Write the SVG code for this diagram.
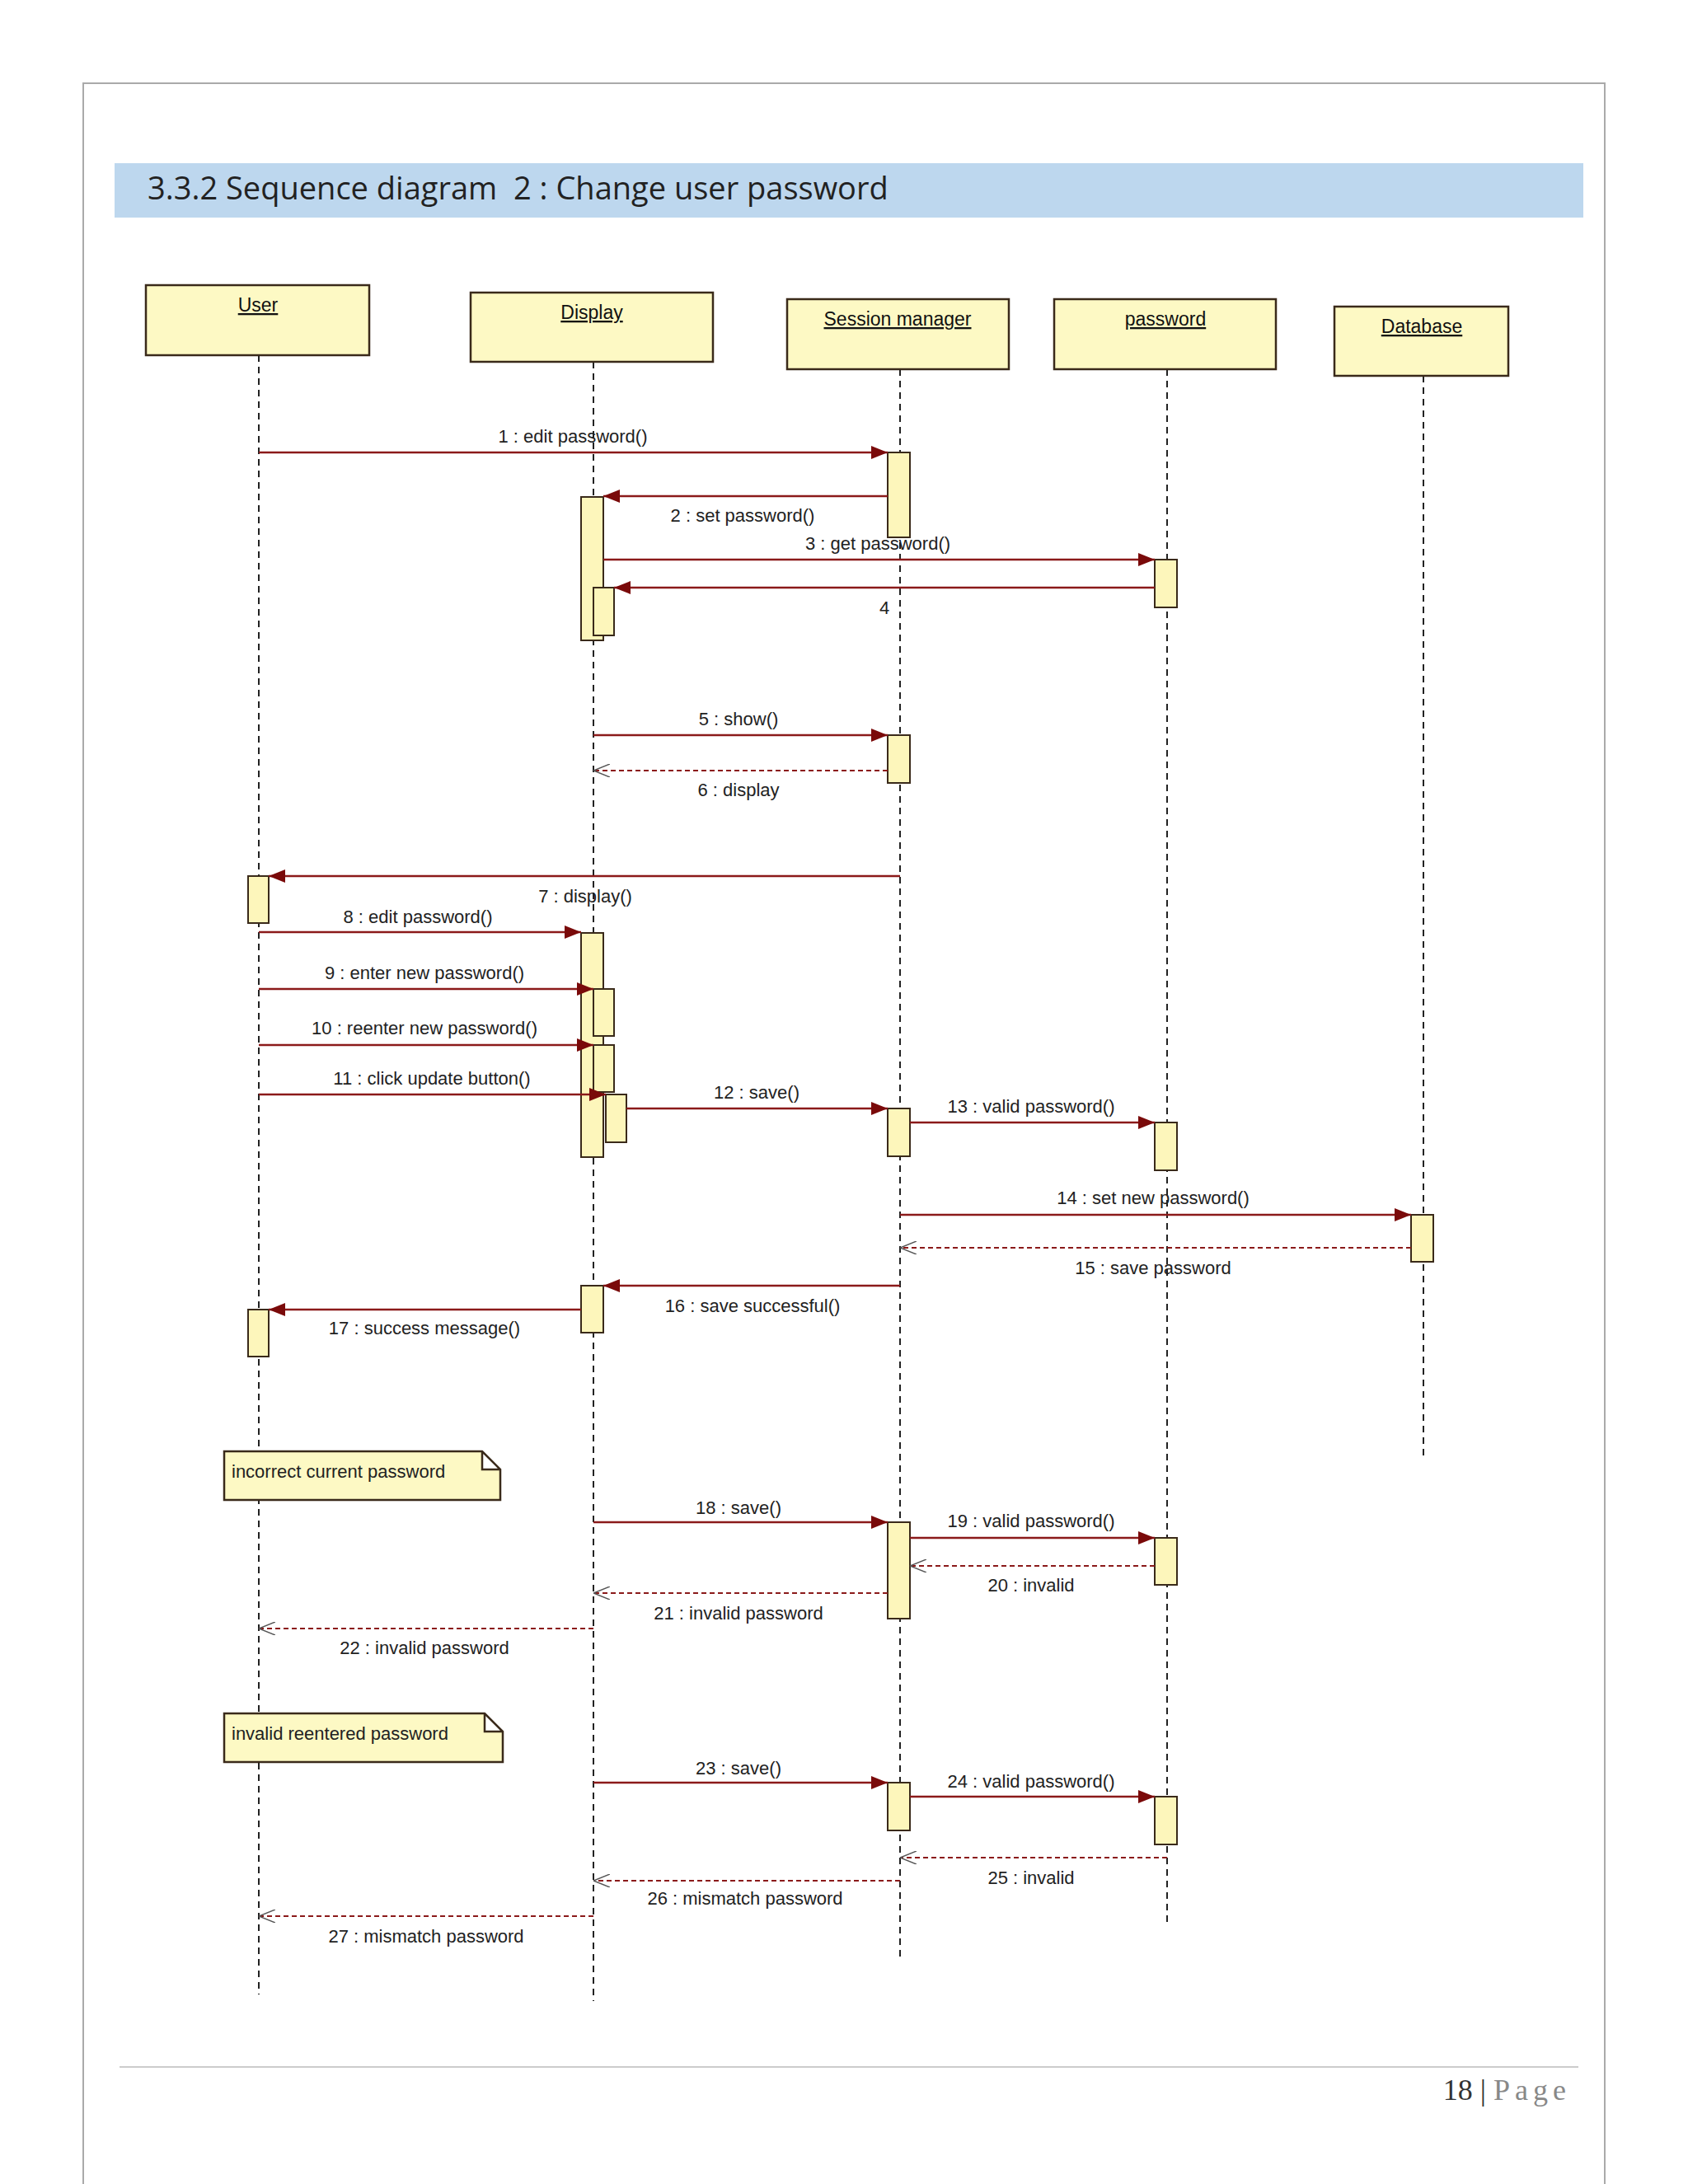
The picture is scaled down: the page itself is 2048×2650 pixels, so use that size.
<svg xmlns="http://www.w3.org/2000/svg" width="2048" height="2650" viewBox="0 0 2048 2650">
<style>
.hd{font-family:"Open Sans","Liberation Sans",sans-serif;font-size:38px;fill:#222}
.nl{font-family:"Liberation Sans",sans-serif;font-size:23px;fill:#111;text-anchor:middle;text-decoration:underline}
.lb{font-family:"Liberation Sans",sans-serif;font-size:22px;fill:#222;text-anchor:middle}
.nt{font-family:"Liberation Sans",sans-serif;font-size:22px;fill:#222}
.box{fill:#fdf9c4;stroke:#3a2a1a;stroke-width:2.5}
.act{fill:#fdf6bb;stroke:#3a2a1a;stroke-width:2}
.ll{stroke:#222;stroke-width:2;stroke-dasharray:8 6;fill:none}
.m{stroke:#8b1a1a;stroke-width:2.5;fill:none;marker-end:url(#f)}
.r{stroke:#8b1a1a;stroke-width:2;stroke-dasharray:6 4;fill:none;marker-end:url(#o)}
</style>
<defs>
<marker id="f" viewBox="0 0 20 16" refX="20" refY="8" markerWidth="20" markerHeight="16" markerUnits="userSpaceOnUse" orient="auto"><path d="M0,0 L20,8 L0,16 z" fill="#7a0a0a"/></marker>
<marker id="o" viewBox="0 0 20 16" refX="20" refY="8" markerWidth="20" markerHeight="16" markerUnits="userSpaceOnUse" orient="auto"><path d="M0,0 L20,8 L0,16" fill="none" stroke="#555" stroke-width="1.5"/></marker>
</defs>
<rect width="2048" height="2650" fill="#fff"/>
<path d="M101,2650 V101 H1947 V2650" fill="none" stroke="#aaa" stroke-width="2"/>
<rect x="139" y="198" width="1782" height="66" fill="#bdd7ee"/>
<text class="hd" x="179" y="242">3.3.2 Sequence diagram &#160;2 : Change user password</text>

<g id="lifelines">
<line class="ll" x1="314" y1="431" x2="314" y2="2420"/>
<line class="ll" x1="720" y1="439" x2="720" y2="2428"/>
<line class="ll" x1="1092" y1="448" x2="1092" y2="2379"/>
<line class="ll" x1="1416" y1="448" x2="1416" y2="2332"/>
<line class="ll" x1="1727" y1="456" x2="1727" y2="1769"/>
</g>
<g id="user"><rect class="box" x="177" y="346" width="271" height="85"/><text class="nl" x="313" y="378">User</text></g>
<g id="display"><rect class="box" x="571" y="355" width="294" height="84"/><text class="nl" x="718" y="387">Display</text></g>
<g id="session"><rect class="box" x="955" y="363" width="269" height="85"/><text class="nl" x="1089" y="395">Session manager</text></g>
<g id="password"><rect class="box" x="1279" y="363" width="269" height="85"/><text class="nl" x="1414" y="395">password</text></g>
<g id="database"><rect class="box" x="1619" y="372" width="211" height="84"/><text class="nl" x="1725" y="404">Database</text></g>

<g id="activations">
<rect class="act" x="1077" y="549" width="27" height="103"/>
<rect class="act" x="705" y="603" width="27" height="174"/>
<rect class="act" x="720" y="713" width="25" height="58"/>
<rect class="act" x="1401" y="679" width="27" height="58"/>
<rect class="act" x="1077" y="892" width="27" height="58"/>
<rect class="act" x="301" y="1063" width="25" height="57"/>
<rect class="act" x="705" y="1132" width="27" height="272"/>
<rect class="act" x="720" y="1200" width="25" height="57"/>
<rect class="act" x="720" y="1268" width="25" height="57"/>
<rect class="act" x="735" y="1328" width="25" height="58"/>
<rect class="act" x="1077" y="1345" width="27" height="58"/>
<rect class="act" x="1401" y="1362" width="27" height="58"/>
<rect class="act" x="1712" y="1474" width="27" height="57"/>
<rect class="act" x="705" y="1560" width="27" height="57"/>
<rect class="act" x="301" y="1589" width="25" height="57"/>
<rect class="act" x="1077" y="1847" width="27" height="117"/>
<rect class="act" x="1401" y="1866" width="27" height="57"/>
<rect class="act" x="1077" y="2163" width="27" height="58"/>
<rect class="act" x="1401" y="2180" width="27" height="58"/>
</g>

<g id="connectors">
<line class="m" x1="314" y1="549" x2="1077" y2="549"/>
<line class="m" x1="1077" y1="602" x2="732" y2="602"/>
<line class="m" x1="732" y1="679" x2="1401" y2="679"/>
<line class="m" x1="1401" y1="713" x2="745" y2="713"/>
<line class="m" x1="720" y1="892" x2="1077" y2="892"/>
<line class="r" x1="1077" y1="935" x2="720" y2="935"/>
<line class="m" x1="1092" y1="1063" x2="326" y2="1063"/>
<line class="m" x1="314" y1="1131" x2="705" y2="1131"/>
<line class="m" x1="314" y1="1200" x2="720" y2="1200"/>
<line class="m" x1="314" y1="1268" x2="720" y2="1268"/>
<line class="m" x1="314" y1="1328" x2="735" y2="1328"/>
<line class="m" x1="760" y1="1345" x2="1077" y2="1345"/>
<line class="m" x1="1104" y1="1362" x2="1401" y2="1362"/>
<line class="m" x1="1092" y1="1474" x2="1712" y2="1474"/>
<line class="r" x1="1712" y1="1514" x2="1092" y2="1514"/>
<line class="m" x1="1092" y1="1560" x2="732" y2="1560"/>
<line class="m" x1="705" y1="1589" x2="326" y2="1589"/>
<line class="m" x1="720" y1="1847" x2="1077" y2="1847"/>
<line class="m" x1="1104" y1="1866" x2="1401" y2="1866"/>
<line class="r" x1="1401" y1="1900" x2="1104" y2="1900"/>
<line class="r" x1="1077" y1="1933" x2="720" y2="1933"/>
<line class="r" x1="720" y1="1976" x2="314" y2="1976"/>
<line class="m" x1="720" y1="2163" x2="1077" y2="2163"/>
<line class="m" x1="1104" y1="2180" x2="1401" y2="2180"/>
<line class="r" x1="1416" y1="2254" x2="1092" y2="2254"/>
<line class="r" x1="1092" y1="2282" x2="720" y2="2282"/>
<line class="r" x1="720" y1="2325" x2="314" y2="2325"/>
</g>

<g id="labels">
<text class="lb" x="695" y="537">1 : edit password()</text>
<text class="lb" x="901" y="633">2 : set password()</text>
<text class="lb" x="1065" y="667">3 : get password()</text>
<text class="lb" x="1073" y="745">4</text>
<text class="lb" x="896" y="880">5 : show()</text>
<text class="lb" x="896" y="966">6 : display</text>
<text class="lb" x="710" y="1095">7 : display()</text>
<text class="lb" x="507" y="1120">8 : edit password()</text>
<text class="lb" x="515" y="1188">9 : enter new password()</text>
<text class="lb" x="515" y="1255">10 : reenter new password()</text>
<text class="lb" x="524" y="1316">11 : click update button()</text>
<text class="lb" x="918" y="1333">12 : save()</text>
<text class="lb" x="1251" y="1350">13 : valid password()</text>
<text class="lb" x="1399" y="1461">14 : set new password()</text>
<text class="lb" x="1399" y="1546">15 : save password</text>
<text class="lb" x="913" y="1592">16 : save successful()</text>
<text class="lb" x="515" y="1619">17 : success message()</text>
<text class="lb" x="896" y="1837">18 : save()</text>
<text class="lb" x="1251" y="1853">19 : valid password()</text>
<text class="lb" x="1251" y="1931">20 : invalid</text>
<text class="lb" x="896" y="1965">21 : invalid password</text>
<text class="lb" x="515" y="2007">22 : invalid password</text>
<text class="lb" x="896" y="2153">23 : save()</text>
<text class="lb" x="1251" y="2169">24 : valid password()</text>
<text class="lb" x="1251" y="2286">25 : invalid</text>
<text class="lb" x="904" y="2311">26 : mismatch password</text>
<text class="lb" x="517" y="2357">27 : mismatch password</text>
</g>

<g id="note1"><path class="box" d="M272,1761 H585 L607,1783 V1820 H272 Z M585,1761 V1783 H607" stroke-width="2"/><text class="nt" x="281" y="1793">incorrect current password</text></g>
<g id="note2"><path class="box" d="M272,2079 H588 L610,2101 V2138 H272 Z M588,2079 V2101 H610" stroke-width="2"/><text class="nt" x="281" y="2111">invalid reentered password</text></g>

<line x1="145" y1="2508" x2="1915" y2="2508" stroke="#ccc" stroke-width="2"/>
<text x="1906" y="2548" text-anchor="end" font-family="Liberation Serif,serif" font-size="36" fill="#333">18 | <tspan fill="#888" letter-spacing="6">Page</tspan></text>
</svg>
